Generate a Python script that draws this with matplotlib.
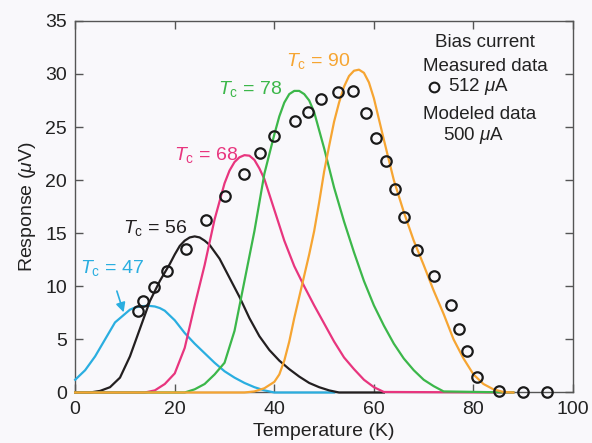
import numpy as np
import matplotlib.pyplot as plt

plt.rcParams['font.family'] = ['Liberation Sans', 'DejaVu Sans']
plt.rcParams['mathtext.fontset'] = 'custom'
plt.rcParams['mathtext.rm'] = 'Liberation Sans'
plt.rcParams['mathtext.it'] = 'Liberation Sans:italic'

# Measured data, 512 uA bias
meas_T = [12.7, 13.7, 15.8, 18.4, 22.2, 26.3, 30.1, 34.0, 37.2, 40.0, 44.2, 46.7, 49.3,
          52.7, 55.9, 58.4, 60.4, 62.4, 64.3, 66.1, 68.6, 72.1, 75.4, 77.0, 78.6, 80.8,
          85.1, 89.9, 94.8]
meas_R = [7.7, 8.6, 9.9, 11.4, 13.5, 16.2, 18.5, 20.6, 22.6, 24.2, 25.6, 26.4, 27.6,
          28.3, 28.4, 26.3, 24.0, 21.8, 19.2, 16.5, 13.4, 11.0, 8.2, 6.0, 3.9, 1.5,
          0.15, 0.0, 0.0]

# Modeled curves, 500 uA bias
tc47_T = [0, 2, 4, 6, 8, 10, 11, 12, 13, 14, 15, 16, 17, 18, 20, 22, 24, 26, 28, 30, 32,
          34, 36, 38, 40, 52]
tc47_R = [1.2, 2.1, 3.4, 5.0, 6.6, 7.4, 7.8, 8.0, 8.1, 8.15, 8.15, 8.1, 7.95, 7.7, 6.8,
          5.6, 4.6, 3.7, 2.8, 2.0, 1.4, 0.9, 0.5, 0.2, 0.0, 0.0]

tc56_T = [0, 3, 5, 7, 9, 11, 13, 15, 17, 19, 20, 21, 22, 23, 24, 25, 26, 27, 29, 31, 33,
          35, 37, 39, 41, 43, 45, 47, 49, 51, 53, 62]
tc56_R = [0, 0, 0.15, 0.5, 1.4, 3.4, 6.0, 8.6, 10.5, 12.1, 13.0, 13.8, 14.3, 14.6, 14.7,
          14.6, 14.3, 13.9, 12.6, 10.8, 9.0, 7.0, 5.3, 4.0, 3.0, 2.2, 1.5, 0.9, 0.5, 0.2,
          0, 0]

tc68_T = [0, 14, 16, 18, 20, 22, 24, 26, 28, 30, 31, 32, 33, 34, 35, 36, 37, 38, 40, 42,
          44, 46, 48, 50, 52, 54, 56, 58, 60, 62, 88]
tc68_R = [0, 0, 0.2, 0.8, 1.8, 4.2, 8.2, 12.0, 16.3, 19.7, 20.9, 21.7, 22.15, 22.35, 22.3,
          21.9, 21.1, 20.1, 17.2, 14.3, 11.9, 10.0, 8.2, 6.5, 4.8, 3.3, 2.2, 1.2, 0.5,
          0.05, 0]

tc78_T = [0, 22, 24, 26, 28, 30, 32, 34, 36, 38, 40, 41, 42, 43, 44, 45, 46, 47, 48, 50,
          52, 54, 56, 58, 60, 62, 64, 66, 68, 70, 72, 74, 88]
tc78_R = [0, 0, 0.3, 0.8, 1.7, 2.8, 5.8, 10.5, 15.2, 20.6, 24.3, 26.0, 27.3, 28.1, 28.4,
          28.4, 28.1, 27.5, 26.4, 23.0, 19.3, 16.1, 13.2, 10.5, 8.2, 6.3, 4.6, 3.2, 2.1,
          1.2, 0.6, 0.1, 0]

tc90_T = [0, 34, 36, 38, 40, 41, 42, 43, 44, 45, 46, 47, 48, 49, 50, 51, 52, 53, 54, 55,
          56, 57, 58, 59, 60, 62, 64, 66, 68, 70, 72, 74, 76, 78, 80, 82, 84, 86, 88]
tc90_R = [0, 0, 0.1, 0.4, 1.0, 1.7, 3.0, 4.8, 7.0, 9.0, 11.0, 13.0, 15.2, 17.9, 20.8,
          23.2, 25.5, 27.3, 28.8, 29.8, 30.3, 30.4, 30.1, 29.2, 27.7, 23.8, 20.0, 17.0,
          14.3, 12.0, 9.6, 7.4, 5.0, 3.2, 1.7, 0.8, 0.3, 0.05, 0]

bg = '#f9f8fb'
c47, c56, c68, c78, c90 = '#2aaee0', '#231f20', '#e8357e', '#3cb74a', '#f6a532'

fig = plt.figure(figsize=(5.92, 4.43), dpi=100, facecolor=bg)
ax = fig.add_axes([0.127, 0.114, 0.841, 0.839], facecolor=bg)

for T, R, col in [(tc47_T, tc47_R, c47), (tc56_T, tc56_R, c56), (tc68_T, tc68_R, c68),
                  (tc78_T, tc78_R, c78), (tc90_T, tc90_R, c90)]:
    ax.plot(T, R, color=col, lw=1.6, zorder=3, clip_on=False, solid_joinstyle='round')

ax.plot(meas_T, meas_R, 'o', ms=7.5, mfc='none', mec='#1a1a1a', mew=1.6,
        zorder=4, clip_on=False)

ax.set_xlim(0, 100)
ax.set_ylim(0, 35)
ax.set_xticks(np.arange(0, 101, 20))
ax.set_yticks(np.arange(0, 36, 5))
ax.tick_params(direction='in', length=6, width=1, color='#555555', labelsize=14,
               top=True, right=True, pad=6, labelcolor='#222222')
for s in ax.spines.values():
    s.set_color('#555555')
    s.set_linewidth(1)
ax.set_xlabel('Temperature (K)', fontsize=14, color='#222222', labelpad=4)
ax.set_ylabel(r'Response ($\mu$V)', fontsize=14, color='#222222', labelpad=5)

fs = 14
ax.text(1.0, 11.7, r'$T_\mathrm{c}$ = 47', color=c47, fontsize=fs, va='center')
ax.annotate('', xy=(9.9, 7.3), xytext=(8.2, 9.8),
            arrowprops=dict(arrowstyle='-|>', color=c47, lw=1.2, mutation_scale=14))
ax.text(9.6, 15.5, r'$T_\mathrm{c}$ = 56', color=c56, fontsize=fs, va='center')
ax.text(19.9, 22.4, r'$T_\mathrm{c}$ = 68', color=c68, fontsize=fs, va='center')
ax.text(28.7, 28.6, r'$T_\mathrm{c}$ = 78', color=c78, fontsize=fs, va='center')
ax.text(42.4, 31.2, r'$T_\mathrm{c}$ = 90', color=c90, fontsize=fs, va='center')

tc = '#222222'
fl = 13.5
ax.text(82.3, 33.0, 'Bias current', fontsize=fl, ha='center', va='center', color=tc)
ax.text(82.3, 30.7, 'Measured data', fontsize=fl, ha='center', va='center', color=tc)
ax.plot([72.0], [28.8], 'o', ms=7, mfc='none', mec='#1a1a1a', mew=1.5)
ax.text(74.8, 28.8, r'512 $\mu$A', fontsize=fl, ha='left', va='center', color=tc)
ax.text(81.3, 26.2, 'Modeled data', fontsize=fl, ha='center', va='center', color=tc)
ax.text(80.0, 24.2, r'500 $\mu$A', fontsize=fl, ha='center', va='center', color=tc)

fig.savefig('out.png', dpi=100, facecolor=bg)
